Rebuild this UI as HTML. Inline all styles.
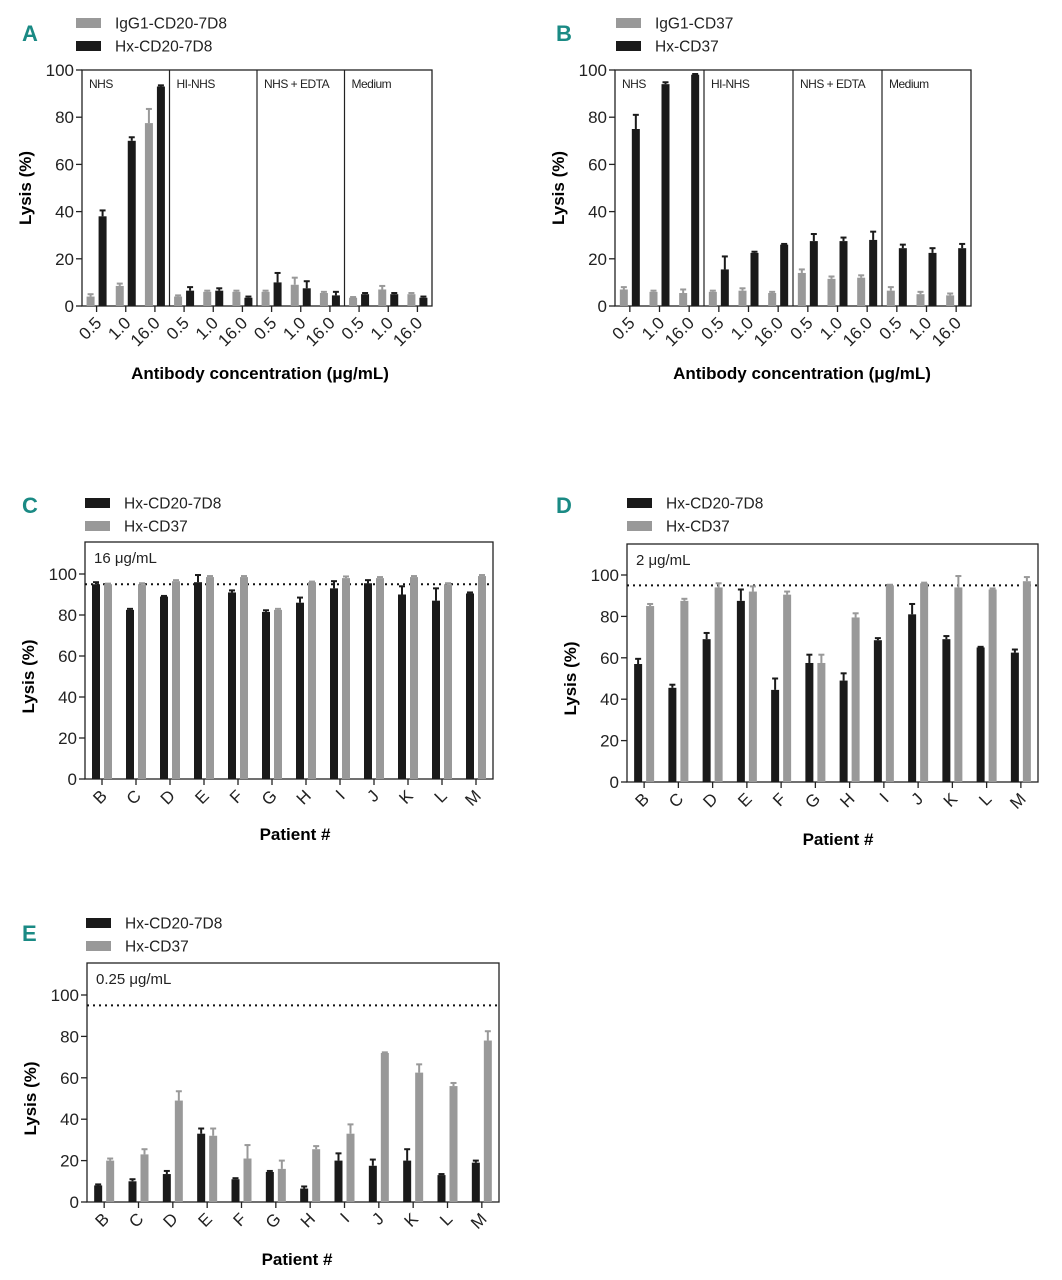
<!DOCTYPE html>
<html><head><meta charset="utf-8"><style>
html,body{margin:0;padding:0;background:#fff}
svg{display:block;font-family:"Liberation Sans",sans-serif}
.pl{font-family:"Liberation Sans",sans-serif;font-weight:bold;fill:#1a8a84;font-size:22px}
</style></head><body>
<svg id="fig" width="1062" height="1280" viewBox="0 0 1062 1280"></svg>
<script>
// ---- Data ----
const concLabels = ["0.5","1.0","16.0"];
const conditions = ["NHS","HI-NHS","NHS + EDTA","Medium"];
const aIgG1 = [4,8.5,77.5, 4,6,6, 6,9,5.5, 3.5,7,5];
const aIgG1Err = [1,1,6, 0.5,0.5,0.5, 0.5,3,0.5, 0.3,1.5,0.5];
const aHx = [38,70,93, 6.5,6.5,3.5, 10,7.5,4.5, 5,5,3.5];
const aHxErr = [2.5,1.5,0.5, 1.5,1,0.5, 4,3,1.5, 0.5,0.5,0.5];
const bIgG1 = [7,6,5.5, 6,6.5,5.5, 14,11.5,12, 6.5,5,4.5];
const bIgG1Err = [1,0.5,1.5, 0.5,1,0.5, 1.5,1,1, 1.5,1,0.8];
const bHx = [75,94,98, 15.5,22.5,26, 27.5,27.5,28, 24.5,22.5,24.5];
const bHxErr = [6,0.8,0.3, 5.5,0.5,0.3, 3,1.5,3.5, 1.5,2,1.8];
const patients = ["B","C","D","E","F","G","H","I","J","K","L","M"];
const cCD20 = [95,82.5,89,96,91,81.5,86,93,95.5,90,87,90.5];
const cCD20Err = [1,0.5,0.3,3.5,1,0.8,2.5,3.5,1.5,4,6,0.5];
const cCD37 = [95,95,96.5,98.5,98.5,82.5,96,98,98,98.5,95,99];
const cCD37Err = [0.3,0.5,0.5,0.5,0.5,0.5,0.3,0.8,0.5,0.5,0.5,0.5];
const dCD20 = [57,45.5,69,87.5,44.5,57.5,49,68.5,81,69,65,62.5];
const dCD20Err = [2.5,1.5,3,5.5,5.5,4,3.5,1,5,1.5,0.3,1.5];
const dCD37 = [85,87.5,94,92,90.5,57.5,79.5,95,96,94,93,97];
const dCD37Err = [1,1,2,2.5,1.5,4,2,0.3,0.3,5.5,0.5,2];
const eCD20 = [8,10,13.5,33,11,14.5,6.5,20,17.5,20,13,19];
const eCD20Err = [0.5,1,1.5,2.5,0.5,0.5,1,3.5,3,5.5,0.5,1];
const eCD37 = [20,23,49,32,21,16,25.5,33,72,62.5,56,78];
const eCD37Err = [1,2.5,4.5,3.5,6.5,4,1.5,4.5,0.3,4,1.5,4.5];
const yTicks = [0,20,40,60,80,100];
const threshold = 95;

const NS="http://www.w3.org/2000/svg";
const svg=document.getElementById('fig');
function mk(tag,attrs,parent,text){const e=document.createElementNS(NS,tag);for(const k in attrs)e.setAttribute(k,attrs[k]);if(text!==undefined)e.textContent=text;(parent||svg).appendChild(e);return e;}

function panel(o){
  const g=mk('g',{});
  
  
  const y=v=>o.y0-(o.y0-o.y100)*v/100;
  const n=o.cats.length, gw=(o.x1-o.x0)/n;
  const xc=i=>o.x0+gw*(i+0.5);
  const L=mk('text',{x:o.lx,y:o.ly,class:'pl'},g,o.letter);
  
  o.legend.forEach((l,i)=>{
    const r=mk('rect',{x:o.legx,y:o.legy+i*23-5,width:25,height:10,fill:l.c},g);
    
    const t=mk('text',{x:o.legx+39,y:o.legy+i*23+5.5,'font-size':15.5,fill:'#222'},g,l.t);
    
  });
  const top=o.boxTop;
  const bx=mk('rect',{x:o.x0,y:top,width:o.x1-o.x0,height:o.y0-top,fill:'none',stroke:'#222','stroke-width':1.3},g);
  
  yTicks.forEach(v=>{
    mk('line',{x1:o.x0-6,x2:o.x0,y1:y(v),y2:y(v),stroke:'#222','stroke-width':1.3},g);
    const t=mk('text',{x:o.x0-8,y:y(v)+6,'font-size':17,'text-anchor':'end',fill:'#222'},g,v);
    
  });
  const yt=mk('text',{x:0,y:0,'font-size':17,'font-weight':'bold','text-anchor':'middle',transform:`translate(${o.x0-51},${(y(0)+y(100))/2}) rotate(-90)`},g,'Lysis (%)');
  
  if(o.sections){
    o.sections.forEach((s,k)=>{
      const sx=o.x0+gw*3*k;
      if(k>0) mk('line',{x1:sx,x2:sx,y1:top,y2:o.y0,stroke:'#222','stroke-width':1.2},g);
      const t=mk('text',{x:sx+7,y:top+18,'font-size':12,fill:'#222','letter-spacing':'-0.5'},g,s);
      
    });
  }
  if(o.note){
    const t=mk('text',{x:o.x0+9,y:top+21,'font-size':15,fill:'#222'},g,o.note);
    
  }
  if(o.dotted){
    const d=mk('line',{x1:o.x0,x2:o.x1,y1:y(threshold),y2:y(threshold),stroke:'#111','stroke-width':2,'stroke-dasharray':'2,4'},g);
    
  }
  o.series.forEach((s,si)=>{
    const off=si===0?-6:6;
    s.v.forEach((v,i)=>{
      const cx=xc(i)+off, w=8;
      const b=mk('rect',{x:cx-w/2,y:y(v),width:w,height:y(0)-y(v),fill:s.c},g);
      
      
      const ey=y(v+s.e[i]);
      mk('line',{x1:cx,x2:cx,y1:y(v),y2:ey,stroke:s.c,'stroke-width':2},g);
      mk('line',{x1:cx-3,x2:cx+3,y1:ey,y2:ey,stroke:s.c,'stroke-width':2},g);
    });
  });
  o.cats.forEach((c,i)=>{
    const x=xc(i);
    mk('line',{x1:x,x2:x,y1:o.y0,y2:o.y0+6,stroke:'#222','stroke-width':1.3},g);
    const t=mk('text',{x:0,y:0,'font-size':17,'text-anchor':'end',fill:'#222',transform:`translate(${x+6},${o.y0+18}) rotate(-45)`},g,c);
    
  });
  const xt=mk('text',{x:o.xtX,y:o.xtY,'font-size':17,'font-weight':'bold','text-anchor':'middle'},g,o.xTitle);
  
}
const GR='#999', BK='#1a1a1a';
const conc12=[].concat(concLabels,concLabels,concLabels,concLabels);
panel({name:'panel-a',letter:'A',lx:22,ly:41,legx:76,legy:23,legend:[{c:GR,t:'IgG1-CD20-7D8'},{c:BK,t:'Hx-CD20-7D8'}],
 x0:82,x1:432,y0:306,y100:70,boxTop:70,cats:conc12,sections:conditions,
 series:[{c:GR,v:aIgG1,e:aIgG1Err},{c:BK,v:aHx,e:aHxErr}],xTitle:'Antibody concentration (\u03bcg/mL)',xtX:260,xtY:379});
panel({name:'panel-b',letter:'B',lx:556,ly:41,legx:616,legy:23,legend:[{c:GR,t:'IgG1-CD37'},{c:BK,t:'Hx-CD37'}],
 x0:615,x1:971,y0:306,y100:70,boxTop:70,cats:conc12,sections:conditions,
 series:[{c:GR,v:bIgG1,e:bIgG1Err},{c:BK,v:bHx,e:bHxErr}],xTitle:'Antibody concentration (\u03bcg/mL)',xtX:802,xtY:379});
panel({name:'panel-c',letter:'C',lx:22,ly:513,legx:85,legy:503,legend:[{c:BK,t:'Hx-CD20-7D8'},{c:GR,t:'Hx-CD37'}],
 x0:85,x1:493,y0:779,y100:574,boxTop:542,cats:patients,note:'16 \u03bcg/mL',dotted:true,
 series:[{c:BK,v:cCD20,e:cCD20Err},{c:GR,v:cCD37,e:cCD37Err}],xTitle:'Patient #',xtX:295,xtY:840});
panel({name:'panel-d',letter:'D',lx:556,ly:513,legx:627,legy:503,legend:[{c:BK,t:'Hx-CD20-7D8'},{c:GR,t:'Hx-CD37'}],
 x0:627,x1:1038,y0:782,y100:575,boxTop:544,cats:patients,note:'2 \u03bcg/mL',dotted:true,
 series:[{c:BK,v:dCD20,e:dCD20Err},{c:GR,v:dCD37,e:dCD37Err}],xTitle:'Patient #',xtX:838,xtY:845});
panel({name:'panel-e',letter:'E',lx:22,ly:941,legx:86,legy:923,legend:[{c:BK,t:'Hx-CD20-7D8'},{c:GR,t:'Hx-CD37'}],
 x0:87,x1:499,y0:1202,y100:995,boxTop:963,cats:patients,note:'0.25 \u03bcg/mL',dotted:true,
 series:[{c:BK,v:eCD20,e:eCD20Err},{c:GR,v:eCD37,e:eCD37Err}],xTitle:'Patient #',xtX:297,xtY:1265});
</script>
</body></html>
